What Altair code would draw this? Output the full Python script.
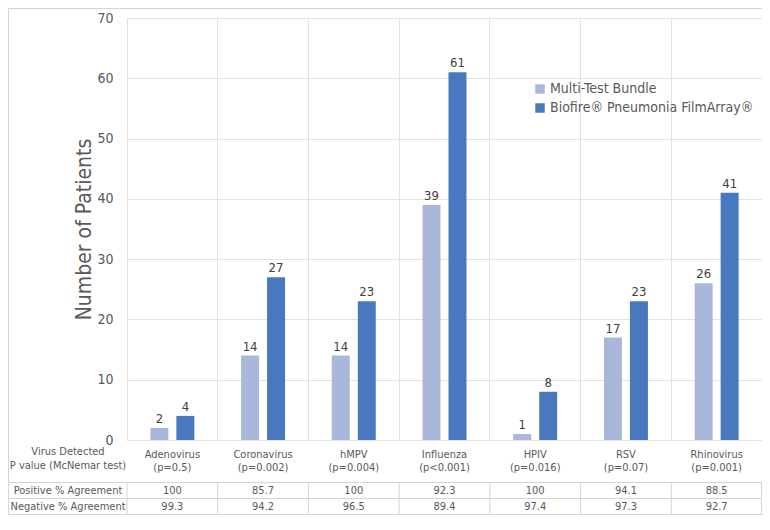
import altair as alt
import pandas as pd

viruses = ["Adenovirus", "Coronavirus", "hMPV", "Influenza", "HPIV", "RSV", "Rhinovirus"]
pvalues = ["(p=0.5)", "(p=0.002)", "(p=0.004)", "(p<0.001)", "(p=0.016)", "(p=0.07)", "(p=0.001)"]
series = ["Multi-Test Bundle", "Biofire\u00ae Pneumonia FilmArray\u00ae"]
multi_test = [2, 14, 14, 39, 1, 17, 26]
biofire = [4, 27, 23, 61, 8, 23, 41]
positive_agreement = ["100", "85.7", "100", "92.3", "100", "94.1", "88.5"]
negative_agreement = ["99.3", "94.2", "96.5", "89.4", "97.4", "97.3", "92.7"]
row_labels = ["Virus Detected", "P value (McNemar test)", "Positive % Agreement", "Negative % Agreement"]
colors = ["#a9b8da", "#4878bd"]

rows = []
for i, v in enumerate(viruses):
    rows.append({"virus": v, "series": series[0], "count": multi_test[i]})
    rows.append({"virus": v, "series": series[1], "count": biofire[i]})
df = pd.DataFrame(rows)
tab = pd.DataFrame({"virus": viruses, "p": pvalues, "pos": positive_agreement, "neg": negative_agreement})
one = pd.DataFrame({"k": [0]})

W, H = 635, 422
TOP = 10
FONT = "DejaVu Sans Condensed, DejaVu Sans"
GRAY = "#595959"
LINE = "#d4d4d4"

x_scale = alt.Scale(paddingInner=0, paddingOuter=0)
x_axis = alt.Axis(grid=True, bandPosition=0, labels=False, ticks=False, domain=False,
                  title=None, gridColor="#e2e2e2")
X = alt.X("virus:N", sort=viruses, scale=x_scale, axis=x_axis)
XO = alt.XOffset("series:N", sort=series, scale=alt.Scale(paddingInner=0.3077, paddingOuter=0.9))
Y = alt.Y("count:Q", scale=alt.Scale(domain=[0, 70]),
          axis=alt.Axis(values=list(range(0, 71, 10)), grid=True, gridColor="#e2e2e2",
                        domain=False, ticks=False, labelPadding=14, labelFontSize=14,
                        labelColor=GRAY, labelFont=FONT, title="Number of Patients",
                        titleFontSize=21, titleFontWeight="normal", titleColor=GRAY,
                        titleFont=FONT, titlePadding=2))

bars = alt.Chart(df).mark_bar().encode(
    x=X, xOffset=XO, y=Y,
    color=alt.Color("series:N", sort=series,
                    scale=alt.Scale(domain=series, range=colors),
                    legend=alt.Legend(orient="none", legendX=406, legendY=64, title=None,
                                      labelFontSize=14, labelColor=GRAY, labelFont=FONT,
                                      labelLimit=0, symbolType="square", symbolSize=90,
                                      symbolStrokeWidth=0, rowPadding=5, labelOffset=3)))

labels = alt.Chart(df).mark_text(dy=-9, fontSize=13, color="#404040", font=FONT).encode(
    x=X, xOffset=XO, y=Y, text="count:Q")

def ttext(field, ypos):
    return alt.Chart(tab).mark_text(fontSize=11, color=GRAY, font=FONT).encode(
        x=X, y=alt.value(ypos), text=f"{field}:N")

def rlabel(txt, ypos):
    return alt.Chart(one).mark_text(text=txt, fontSize=11, color=GRAY, font=FONT).encode(
        x=alt.value(-59), y=alt.value(ypos))

def hline(ypos):
    return alt.Chart(one).mark_rule(color=LINE, strokeWidth=1).encode(
        x=alt.value(-118.5), x2=alt.value(W), y=alt.value(ypos))

def vline(xpos, y1, y2):
    return alt.Chart(one).mark_rule(color=LINE, strokeWidth=1).encode(
        x=alt.value(xpos), y=alt.value(y1), y2=alt.value(y2))

T1, T2, T3 = H + 42.5, H + 58.5, H + 74.5

vlines_cat = alt.Chart(tab).mark_rule(color=LINE, strokeWidth=1).encode(
    x=alt.X("virus:N", sort=viruses, bandPosition=0, scale=x_scale, axis=x_axis),
    y=alt.value(T1), y2=alt.value(T3))

border_top = alt.Chart(one).mark_rule(color=LINE, strokeWidth=1).encode(
    x=alt.value(-118.5), x2=alt.value(W), y=alt.value(-TOP + 0.5))

chart = alt.layer(
    bars, labels,
    ttext("virus", H + 15), ttext("p", H + 28),
    ttext("pos", H + 51), ttext("neg", H + 67),
    rlabel(row_labels[0], H + 12), rlabel(row_labels[1], H + 26),
    rlabel(row_labels[2], H + 51), rlabel(row_labels[3], H + 67),
    hline(T1), hline(T2), hline(T3),
    vlines_cat, vline(W - 0.5, T1, T3), vline(-118.5, -TOP + 0.5, T3),
    border_top,
).properties(
    width=W, height=H,
    autosize=alt.AutoSizeParams(type="none"),
    padding={"left": 119, "top": TOP, "right": 0, "bottom": 76},
).configure_view(
    fill="#f7f7f7", stroke="#dddddd"
).configure(background="white")

chart.save("out.html", embed_options={"renderer": "svg", "actions": False})
